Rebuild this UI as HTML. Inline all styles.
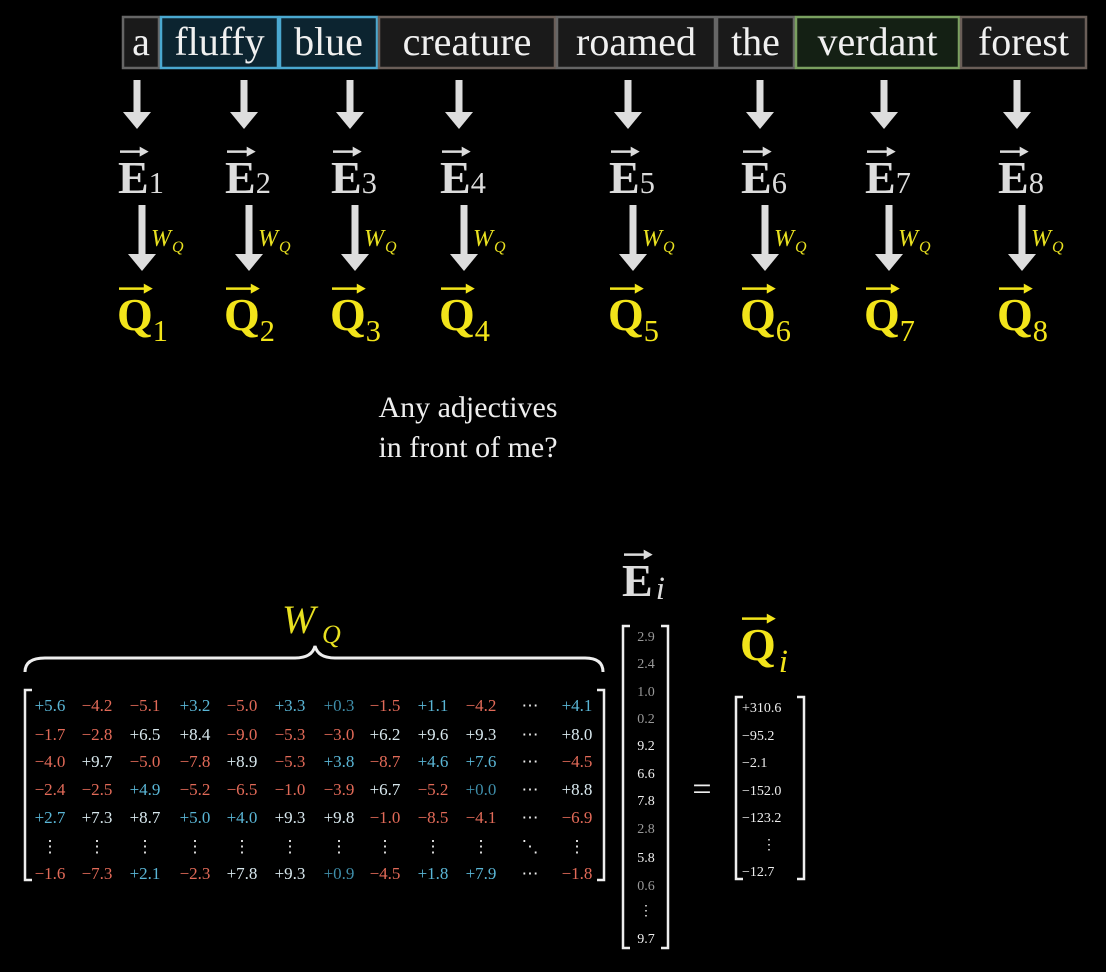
<!DOCTYPE html>
<html><head><meta charset="utf-8"><style>
html,body{margin:0;padding:0;background:#000;}
svg{display:block;font-family:"Liberation Serif",serif;}
</style></head><body>
<svg id="s" width="1106" height="972" viewBox="0 0 1106 972" xmlns="http://www.w3.org/2000/svg">
<rect width="1106" height="972" fill="#000"/>
<g id="topg"></g>
<text x="468" y="417" font-size="30" fill="#eee" text-anchor="middle">Any adjectives</text>
<text x="468" y="457" font-size="30" fill="#eee" text-anchor="middle">in front of me?</text>
<g id="botg"></g>
</svg>
<script>
const words=["a","fluffy","blue","creature","roamed","the","verdant","forest"];
const wordX=[122,160,279,378,556,716,795,960,1087];
const wordStroke=["#666","#4aa8d0","#4aa8d0","#6a5e58","#666","#666","#7aa060","#6a5e58"];
const wordFill=["#1a1a1a","#0c2430","#0c2430","#1a1a1a","#1a1a1a","#1a1a1a","#142014","#1a1a1a"];
const arrowX=[137,244,350,459,628,760,884,1017];
const W=[
["+5.6","-4.2","-5.1","+3.2","-5.0","+3.3","+0.3","-1.5","+1.1","-4.2","⋯","+4.1"],
["-1.7","-2.8","+6.5","+8.4","-9.0","-5.3","-3.0","+6.2","+9.6","+9.3","⋯","+8.0"],
["-4.0","+9.7","-5.0","-7.8","+8.9","-5.3","+3.8","-8.7","+4.6","+7.6","⋯","-4.5"],
["-2.4","-2.5","+4.9","-5.2","-6.5","-1.0","-3.9","+6.7","-5.2","+0.0","⋯","+8.8"],
["+2.7","+7.3","+8.7","+5.0","+4.0","+9.3","+9.8","-1.0","-8.5","-4.1","⋯","-6.9"],
["⋮","⋮","⋮","⋮","⋮","⋮","⋮","⋮","⋮","⋮","⋱","⋮"],
["-1.6","-7.3","+2.1","-2.3","+7.8","+9.3","+0.9","-4.5","+1.8","+7.9","⋯","-1.8"]];
const Evals=["2.9","2.4","1.0","0.2","9.2","6.6","7.8","2.8","5.8","0.6","⋮","9.7"];
const Qvals=["+310.6","-95.2","-2.1","-152.0","-123.2","⋮","-12.7"];
const NS="http://www.w3.org/2000/svg";
function mk(p,tag,at,txt){const e=document.createElementNS(NS,tag);for(const k in at)e.setAttribute(k,at[k]);if(txt!==undefined)e.textContent=txt;p.appendChild(e);return e;}
const topG=document.getElementById('topg'),botG=document.getElementById('botg');
words.forEach((w,i)=>{
 const x0=wordX[i],x1=wordX[i+1];
 const r=mk(topG,'rect',{x:x0+1,y:17,width:x1-x0-2,height:51,fill:wordFill[i],stroke:wordStroke[i],'stroke-width':2.5});
 
 
 const t=mk(topG,'text',{x:(x0+x1)/2,y:55,'font-size':40,fill:'#f0f0f0','text-anchor':'middle'},w);
 
 
});
function arrow(p,x,y0,y1,name){
 const g=mk(p,'g',{});
 
 
 mk(g,'rect',{x:x-3.5,y:y0,width:7,height:y1-y0-16,fill:'#ddd'});
 mk(g,'polygon',{points:`${x-14},${y1-17} ${x+14},${y1-17} ${x},${y1}`,fill:'#ddd'});
}
function vecLabel(p,x,y,letter,sub,col,name,size,subDy){
 const g=mk(p,'g',{});
 
 
 const m=mk(g,'text',{x:x,y:y,'font-size':size,'font-weight':'bold',fill:col},letter);
 const w=m.getComputedTextLength();
 mk(g,'text',{x:x+w+(sub==='i'?3:0),y:y+subDy,'font-size':sub==='i'?size*0.72:size*0.66,fill:col,'font-style':sub==='i'?'italic':'normal'},sub);
 const ay=y-size*0.66-11;
 mk(g,'line',{x1:x+2,y1:ay,x2:x+w-6,y2:ay,stroke:col,'stroke-width':2.5});
 mk(g,'polygon',{points:`${x+w},${ay} ${x+w-9},${ay-5} ${x+w-9},${ay+5}`,fill:col});
}
arrowX.forEach((x,i)=>{
 arrow(topG,x,80,129,'embed-arrow-'+(i+1));
 vecLabel(topG,x-19,193,'E',String(i+1),'#dcdcdc','embedding-e'+(i+1),46,0);
 arrow(topG,x+5,205,271,'wq-arrow-'+(i+1));
 const t=mk(topG,'text',{x:x+14,y:246,'font-size':24,'font-style':'italic',fill:'#e8e020'},'W');
 
 
 mk(topG,'text',{x:x+35,y:252,'font-size':16,'font-style':'italic',fill:'#e8e020'},'Q');
 vecLabel(topG,x-20,330,'Q',String(i+1),'#f2e41a','query-q'+(i+1),46,11);
});
vecLabel(botG,622,596,'E','i','#dcdcdc','embedding-e-i',46,3);
vecLabel(botG,740,660,'Q','i','#f2e41a','query-q-i',46,12);
const wq=mk(botG,'text',{x:282,y:633,'font-size':40,'font-style':'italic',fill:'#e8e020'},'W');


mk(botG,'text',{x:322,y:643,'font-size':26,'font-style':'italic',fill:'#e8e020'},'Q');
const br=mk(botG,'path',{d:'M25,672 Q25,658 45,658 L295,658 Q312,658 315,646 Q318,658 335,658 L585,658 Q603,658 603,672',fill:'none',stroke:'#eee','stroke-width':3});


function bracket(p,x0,x1,y0,y1,name){
 const g=mk(p,'g',{fill:'none',stroke:'#eee','stroke-width':2.5});
 
 
 mk(g,'path',{d:`M${x0+7},${y0} L${x0},${y0} L${x0},${y1} L${x0+7},${y1}`});
 mk(g,'path',{d:`M${x1-7},${y0} L${x1},${y0} L${x1},${y1} L${x1-7},${y1}`});
}
bracket(botG,25,604,690,880,'wq-matrix-brackets');
const colX=[50,97,145,195,242,290,339,385,433,481,530,577];
const rowY=[711,740,767,795,823,852,879];
function col(v){
 if(v[0]==='+'){const n=parseFloat(v);if(n<1)return '#3f8eaa';if(n>=6.2&&n!==7.6&&n!==7.9)return '#d8e8ee';return '#5ab6d6';}
 if(v[0]==='-')return '#e26a58';
 return '#eee';
}
W.forEach((row,r)=>row.forEach((v,c)=>{
 const t=mk(botG,'text',{x:colX[c],y:rowY[r],'font-size':17,fill:col(v),'text-anchor':'middle'},v.replace('-','−'));
 
 
}));
bracket(botG,623,668,626,948,'e-vector-brackets');
const eY=[641,668,696,723,750,778,805,833,862,890,915,943];
Evals.forEach((v,i)=>{
 const n=parseFloat(v);
 const t=mk(botG,'text',{x:646,y:eY[i],'font-size':14,fill:(n>=5||v==='⋮')?'#eee':'#999','text-anchor':'middle'},v);
 
 
});
const eq=mk(botG,'text',{x:702,y:800,'font-size':34,fill:'#eee','text-anchor':'middle'},'=');


bracket(botG,736,804,697,879,'q-vector-brackets');
const qY=[712,740,767,795,822,849,876];
Qvals.forEach((v,i)=>{
 const t=mk(botG,'text',{x:v==='⋮'?769:742,y:qY[i],'font-size':14,fill:'#eee','text-anchor':v==='⋮'?'middle':'start'},v.replace('-','−'));
 
 
});
</script>
</body></html>
